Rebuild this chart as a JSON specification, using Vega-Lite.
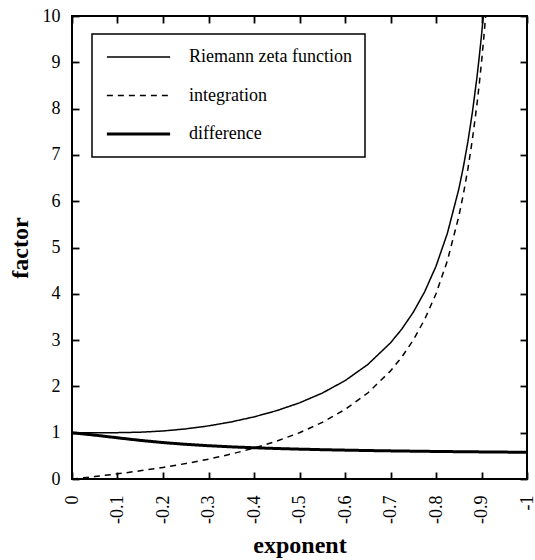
{
  "$schema": "https://vega.github.io/schema/vega-lite/v6.json",
  "width": 455,
  "height": 463,
  "autosize": "none",
  "padding": {"left": 72, "top": 16, "right": 8, "bottom": 81},
  "background": "white",
  "config": {
    "font": "Liberation Serif",
    "view": {"stroke": "black", "strokeWidth": 2},
    "axis": {
      "domain": false,
      "grid": false,
      "tickColor": "black",
      "tickWidth": 1.8,
      "tickSize": -7,
      "labelColor": "black",
      "labelFont": "Liberation Serif",
      "labelFontSize": 18,
      "titleColor": "black",
      "titleFont": "Liberation Serif",
      "titleFontSize": 24,
      "titleFontWeight": "bold"
    },
    "legend": {"strokeWidth": 1.5, "labelFont": "Liberation Serif", "labelFontSize": 18, "labelColor": "black", "labelLimit": 0}
  },
  "data": {
    "values": [
      {"exponent": 0, "factor": 1, "series": "Riemann zeta function"},
      {"exponent": -0.025, "factor": 1, "series": "Riemann zeta function"},
      {"exponent": -0.05, "factor": 1.000001, "series": "Riemann zeta function"},
      {"exponent": -0.1, "factor": 1.000995, "series": "Riemann zeta function"},
      {"exponent": -0.15, "factor": 1.0106, "series": "Riemann zeta function"},
      {"exponent": -0.2, "factor": 1.03693, "series": "Riemann zeta function"},
      {"exponent": -0.25, "factor": 1.08232, "series": "Riemann zeta function"},
      {"exponent": -0.3, "factor": 1.1473, "series": "Riemann zeta function"},
      {"exponent": -0.35, "factor": 1.233, "series": "Riemann zeta function"},
      {"exponent": -0.4, "factor": 1.34149, "series": "Riemann zeta function"},
      {"exponent": -0.45, "factor": 1.4767, "series": "Riemann zeta function"},
      {"exponent": -0.5, "factor": 1.64493, "series": "Riemann zeta function"},
      {"exponent": -0.55, "factor": 1.8556, "series": "Riemann zeta function"},
      {"exponent": -0.6, "factor": 2.1235, "series": "Riemann zeta function"},
      {"exponent": -0.65, "factor": 2.472, "series": "Riemann zeta function"},
      {"exponent": -0.7, "factor": 2.9408, "series": "Riemann zeta function"},
      {"exponent": -0.725, "factor": 3.2405, "series": "Riemann zeta function"},
      {"exponent": -0.75, "factor": 3.6009, "series": "Riemann zeta function"},
      {"exponent": -0.775, "factor": 4.0423, "series": "Riemann zeta function"},
      {"exponent": -0.8, "factor": 4.5951, "series": "Riemann zeta function"},
      {"exponent": -0.825, "factor": 5.3067, "series": "Riemann zeta function"},
      {"exponent": -0.85, "factor": 6.2566, "series": "Riemann zeta function"},
      {"exponent": -0.86, "factor": 6.7318, "series": "Riemann zeta function"},
      {"exponent": -0.87, "factor": 7.2803, "series": "Riemann zeta function"},
      {"exponent": -0.88, "factor": 7.9203, "series": "Riemann zeta function"},
      {"exponent": -0.89, "factor": 8.677, "series": "Riemann zeta function"},
      {"exponent": -0.895, "factor": 9.1095, "series": "Riemann zeta function"},
      {"exponent": -0.9, "factor": 9.5852, "series": "Riemann zeta function"},
      {"exponent": -0.905, "factor": 10.111, "series": "Riemann zeta function"},
      {"exponent": -0.91, "factor": 10.696, "series": "Riemann zeta function"},

      {"exponent": 0, "factor": 0, "series": "integration"},
      {"exponent": -0.025, "factor": 0.02564, "series": "integration"},
      {"exponent": -0.05, "factor": 0.05263, "series": "integration"},
      {"exponent": -0.1, "factor": 0.11111, "series": "integration"},
      {"exponent": -0.15, "factor": 0.17647, "series": "integration"},
      {"exponent": -0.2, "factor": 0.25, "series": "integration"},
      {"exponent": -0.25, "factor": 0.33333, "series": "integration"},
      {"exponent": -0.3, "factor": 0.42857, "series": "integration"},
      {"exponent": -0.35, "factor": 0.53846, "series": "integration"},
      {"exponent": -0.4, "factor": 0.66667, "series": "integration"},
      {"exponent": -0.45, "factor": 0.81818, "series": "integration"},
      {"exponent": -0.5, "factor": 1, "series": "integration"},
      {"exponent": -0.55, "factor": 1.22222, "series": "integration"},
      {"exponent": -0.6, "factor": 1.5, "series": "integration"},
      {"exponent": -0.65, "factor": 1.85714, "series": "integration"},
      {"exponent": -0.7, "factor": 2.33333, "series": "integration"},
      {"exponent": -0.725, "factor": 2.63636, "series": "integration"},
      {"exponent": -0.75, "factor": 3, "series": "integration"},
      {"exponent": -0.775, "factor": 3.44444, "series": "integration"},
      {"exponent": -0.8, "factor": 4, "series": "integration"},
      {"exponent": -0.825, "factor": 4.71429, "series": "integration"},
      {"exponent": -0.85, "factor": 5.66667, "series": "integration"},
      {"exponent": -0.86, "factor": 6.14286, "series": "integration"},
      {"exponent": -0.87, "factor": 6.69231, "series": "integration"},
      {"exponent": -0.88, "factor": 7.33333, "series": "integration"},
      {"exponent": -0.89, "factor": 8.09091, "series": "integration"},
      {"exponent": -0.895, "factor": 8.52381, "series": "integration"},
      {"exponent": -0.9, "factor": 9, "series": "integration"},
      {"exponent": -0.905, "factor": 9.52632, "series": "integration"},
      {"exponent": -0.91, "factor": 10.11111, "series": "integration"},

      {"exponent": 0, "factor": 1, "series": "difference"},
      {"exponent": -0.025, "factor": 0.97436, "series": "difference"},
      {"exponent": -0.05, "factor": 0.94737, "series": "difference"},
      {"exponent": -0.1, "factor": 0.88988, "series": "difference"},
      {"exponent": -0.15, "factor": 0.83413, "series": "difference"},
      {"exponent": -0.2, "factor": 0.78693, "series": "difference"},
      {"exponent": -0.25, "factor": 0.74899, "series": "difference"},
      {"exponent": -0.3, "factor": 0.71873, "series": "difference"},
      {"exponent": -0.35, "factor": 0.69454, "series": "difference"},
      {"exponent": -0.4, "factor": 0.67482, "series": "difference"},
      {"exponent": -0.45, "factor": 0.6585, "series": "difference"},
      {"exponent": -0.5, "factor": 0.64493, "series": "difference"},
      {"exponent": -0.55, "factor": 0.6334, "series": "difference"},
      {"exponent": -0.6, "factor": 0.6235, "series": "difference"},
      {"exponent": -0.65, "factor": 0.6149, "series": "difference"},
      {"exponent": -0.7, "factor": 0.6075, "series": "difference"},
      {"exponent": -0.75, "factor": 0.6009, "series": "difference"},
      {"exponent": -0.8, "factor": 0.5951, "series": "difference"},
      {"exponent": -0.85, "factor": 0.5899, "series": "difference"},
      {"exponent": -0.9, "factor": 0.5852, "series": "difference"},
      {"exponent": -0.95, "factor": 0.581, "series": "difference"},
      {"exponent": -1, "factor": 0.5772, "series": "difference"}
    ]
  },
  "layer": [
    {
      "mark": {"type": "line", "clip": true, "color": "black"},
      "encoding": {
        "x": {
          "field": "exponent",
          "type": "quantitative",
          "scale": {"domain": [0, -1], "nice": false, "zero": false},
          "axis": {
            "orient": "bottom",
            "title": "exponent",
            "values": [0, -0.1, -0.2, -0.3, -0.4, -0.5, -0.6, -0.7, -0.8, -0.9, -1],
            "format": "~g",
            "labelExpr": "replace(datum.label, '\u2212', '-')",
            "labelAngle": 270,
            "labelPadding": 23,
            "titlePadding": 10
          }
        },
        "y": {
          "field": "factor",
          "type": "quantitative",
          "scale": {"domain": [0, 10], "nice": false},
          "axis": {
            "orient": "left",
            "title": "factor",
            "values": [0, 1, 2, 3, 4, 5, 6, 7, 8, 9, 10],
            "labelPadding": 19,
            "titlePadding": 10,
            "encode": {"labels": {"update": {"dx": {"value": -5}}}}
          }
        },
        "strokeDash": {
          "field": "series",
          "type": "nominal",
          "scale": {"type": "ordinal", "domain": ["Riemann zeta function", "integration", "difference"], "range": [[1, 0], [6, 5], [1, 0]]},
          "legend": {
            "orient": "none", "legendX": 20, "legendY": 18, "title": null,
            "symbolType": "stroke", "symbolSize": 4000, "symbolStrokeColor": "black",
            "clipHeight": 20, "rowPadding": 18.5, "padding": 13, "strokeColor": "black",
            "labelFont": "Liberation Serif", "labelFontSize": 18, "labelColor": "black", "labelOffset": 17, "labelLimit": 0
          }
        },
        "strokeWidth": {
          "field": "series",
          "type": "nominal",
          "scale": {"type": "ordinal", "domain": ["Riemann zeta function", "integration", "difference"], "range": [1.5, 1.5, 3]},
          "legend": {
            "orient": "none", "legendX": 20, "legendY": 18, "title": null,
            "symbolType": "stroke", "symbolSize": 4000, "symbolStrokeColor": "black",
            "clipHeight": 20, "rowPadding": 18.5, "padding": 13, "strokeColor": "black",
            "labelFont": "Liberation Serif", "labelFontSize": 18, "labelColor": "black", "labelOffset": 17, "labelLimit": 0
          }
        }
      }
    },
    {
      "mark": {"type": "line", "opacity": 0},
      "encoding": {
        "x": {
          "field": "exponent",
          "type": "quantitative",
          "scale": {"domain": [0, -1], "nice": false, "zero": false},
          "axis": {"orient": "top", "title": null, "labels": false, "values": [0, -0.1, -0.2, -0.3, -0.4, -0.5, -0.6, -0.7, -0.8, -0.9, -1]}
        },
        "y": {
          "field": "factor",
          "type": "quantitative",
          "scale": {"domain": [0, 10], "nice": false},
          "axis": {"orient": "right", "title": null, "labels": false, "values": [0, 1, 2, 3, 4, 5, 6, 7, 8, 9, 10]}
        },
        "detail": {"field": "series"}
      }
    }
  ],
  "resolve": {"scale": {"x": "independent", "y": "independent"}, "axis": {"x": "independent", "y": "independent"}}
}
